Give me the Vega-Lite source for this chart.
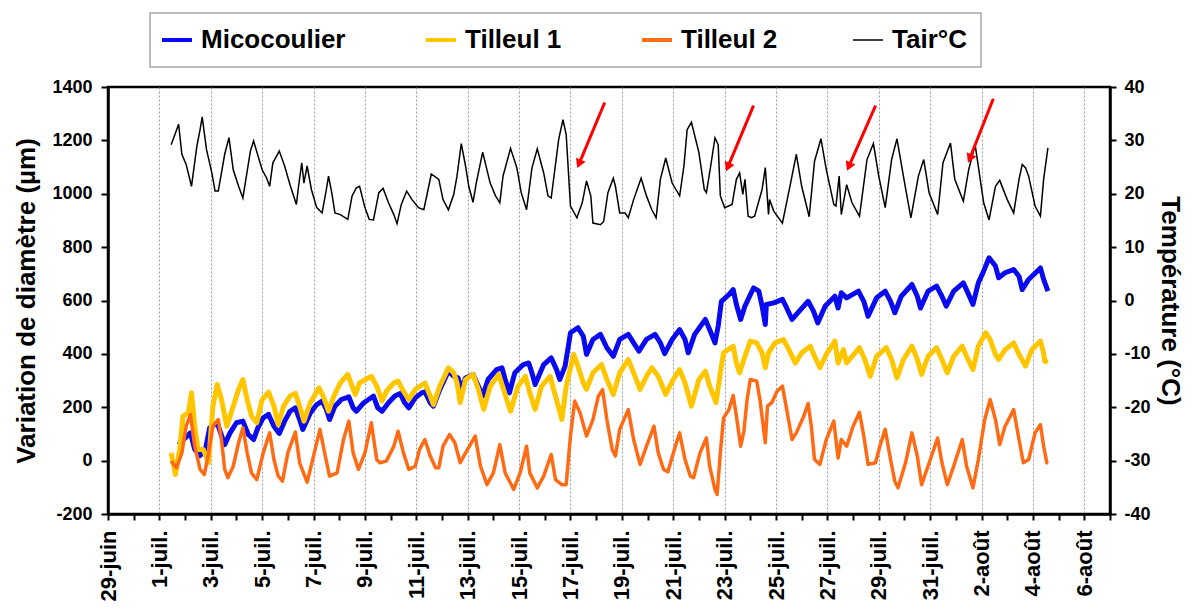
{
"$schema":"https://vega.github.io/schema/vega-lite/v6.json",
"width":1002,"height":427,
"autosize":{"type":"none"},
"padding":{"left":108,"top":87,"right":82,"bottom":96},
"background":"white",
"config":{
"font":"Liberation Sans",
"view":{"stroke":"black","strokeWidth":2.5},
"axis":{"domainColor":"black","domainWidth":2.5,"tickColor":"black","tickWidth":2,"labelColor":"black","labelFont":"Liberation Sans","labelFontWeight":"bold","titleFont":"Liberation Sans","titleColor":"black","titleFontWeight":"bold"},
"legend":{"strokeWidth":1.5}
},
"datasets":{
"M":[{"t":"2015-07-01 18:00","v":60},{"t":"2015-07-02 00:00","v":85},{"t":"2015-07-02 05:00","v":104},{"t":"2015-07-02 09:00","v":42},{"t":"2015-07-02 14:00","v":19},{"t":"2015-07-02 19:00","v":42},{"t":"2015-07-02 23:00","v":123},{"t":"2015-07-03 06:00","v":142},{"t":"2015-07-03 13:00","v":60},{"t":"2015-07-03 18:00","v":104},{"t":"2015-07-04 00:00","v":142},{"t":"2015-07-04 06:00","v":148},{"t":"2015-07-04 11:00","v":98},{"t":"2015-07-04 16:00","v":79},{"t":"2015-07-04 20:00","v":123},{"t":"2015-07-05 01:00","v":160},{"t":"2015-07-05 06:00","v":173},{"t":"2015-07-05 11:00","v":129},{"t":"2015-07-05 16:00","v":102},{"t":"2015-07-05 21:00","v":148},{"t":"2015-07-06 02:00","v":185},{"t":"2015-07-06 07:00","v":198},{"t":"2015-07-06 11:00","v":154},{"t":"2015-07-06 14:00","v":117},{"t":"2015-07-06 21:00","v":179},{"t":"2015-07-07 03:00","v":210},{"t":"2015-07-07 08:00","v":223},{"t":"2015-07-07 12:00","v":192},{"t":"2015-07-07 15:00","v":154},{"t":"2015-07-07 20:00","v":204},{"t":"2015-07-08 02:00","v":229},{"t":"2015-07-08 09:00","v":239},{"t":"2015-07-08 13:00","v":198},{"t":"2015-07-08 16:00","v":185},{"t":"2015-07-08 23:00","v":217},{"t":"2015-07-09 08:00","v":242},{"t":"2015-07-09 12:00","v":198},{"t":"2015-07-09 16:00","v":185},{"t":"2015-07-09 22:00","v":217},{"t":"2015-07-10 04:00","v":242},{"t":"2015-07-10 09:00","v":252},{"t":"2015-07-10 13:00","v":217},{"t":"2015-07-10 17:00","v":198},{"t":"2015-07-10 23:00","v":235},{"t":"2015-07-11 05:00","v":254},{"t":"2015-07-11 08:00","v":258},{"t":"2015-07-11 13:00","v":217},{"t":"2015-07-11 16:00","v":204},{"t":"2015-07-11 22:00","v":267},{"t":"2015-07-12 06:00","v":335},{"t":"2015-07-12 11:00","v":316},{"t":"2015-07-12 15:00","v":310},{"t":"2015-07-12 18:00","v":267},{"t":"2015-07-12 22:00","v":310},{"t":"2015-07-13 05:00","v":323},{"t":"2015-07-13 10:00","v":279},{"t":"2015-07-13 14:00","v":242},{"t":"2015-07-13 19:00","v":304},{"t":"2015-07-14 03:00","v":341},{"t":"2015-07-14 08:00","v":348},{"t":"2015-07-14 11:00","v":304},{"t":"2015-07-14 15:00","v":254},{"t":"2015-07-14 20:00","v":329},{"t":"2015-07-15 04:00","v":360},{"t":"2015-07-15 09:00","v":366},{"t":"2015-07-15 12:00","v":329},{"t":"2015-07-15 15:00","v":285},{"t":"2015-07-15 23:00","v":360},{"t":"2015-07-16 06:00","v":385},{"t":"2015-07-16 11:00","v":341},{"t":"2015-07-16 14:00","v":304},{"t":"2015-07-16 19:00","v":354},{"t":"2015-07-17 00:00","v":479},{"t":"2015-07-17 07:00","v":498},{"t":"2015-07-17 12:00","v":466},{"t":"2015-07-17 15:00","v":398},{"t":"2015-07-17 21:00","v":454},{"t":"2015-07-18 04:00","v":473},{"t":"2015-07-18 10:00","v":423},{"t":"2015-07-18 16:00","v":391},{"t":"2015-07-18 22:00","v":454},{"t":"2015-07-19 06:00","v":473},{"t":"2015-07-19 11:00","v":441},{"t":"2015-07-19 16:00","v":410},{"t":"2015-07-19 23:00","v":454},{"t":"2015-07-20 07:00","v":473},{"t":"2015-07-20 12:00","v":441},{"t":"2015-07-20 16:00","v":401},{"t":"2015-07-20 23:00","v":454},{"t":"2015-07-21 06:00","v":491},{"t":"2015-07-21 11:00","v":454},{"t":"2015-07-21 14:00","v":404},{"t":"2015-07-21 20:00","v":473},{"t":"2015-07-22 06:00","v":529},{"t":"2015-07-22 10:00","v":491},{"t":"2015-07-22 15:00","v":441},{"t":"2015-07-22 18:00","v":504},{"t":"2015-07-22 21:00","v":597},{"t":"2015-07-23 04:00","v":622},{"t":"2015-07-23 08:00","v":641},{"t":"2015-07-23 11:00","v":585},{"t":"2015-07-23 15:00","v":529},{"t":"2015-07-23 19:00","v":579},{"t":"2015-07-24 03:00","v":647},{"t":"2015-07-24 08:00","v":635},{"t":"2015-07-24 11:00","v":579},{"t":"2015-07-24 14:00","v":510},{"t":"2015-07-24 15:00","v":585},{"t":"2015-07-24 22:00","v":591},{"t":"2015-07-25 06:00","v":604},{"t":"2015-07-25 10:00","v":572},{"t":"2015-07-25 15:00","v":529},{"t":"2015-07-25 23:00","v":566},{"t":"2015-07-26 06:00","v":597},{"t":"2015-07-26 11:00","v":560},{"t":"2015-07-26 15:00","v":516},{"t":"2015-07-26 22:00","v":579},{"t":"2015-07-27 07:00","v":616},{"t":"2015-07-27 10:00","v":572},{"t":"2015-07-27 13:00","v":629},{"t":"2015-07-27 18:00","v":610},{"t":"2015-07-28 05:00","v":635},{"t":"2015-07-28 10:00","v":597},{"t":"2015-07-28 14:00","v":541},{"t":"2015-07-28 22:00","v":610},{"t":"2015-07-29 06:00","v":635},{"t":"2015-07-29 11:00","v":597},{"t":"2015-07-29 15:00","v":554},{"t":"2015-07-29 21:00","v":616},{"t":"2015-07-30 07:00","v":660},{"t":"2015-07-30 12:00","v":616},{"t":"2015-07-30 15:00","v":572},{"t":"2015-07-30 22:00","v":635},{"t":"2015-07-31 06:00","v":654},{"t":"2015-07-31 11:00","v":616},{"t":"2015-07-31 15:00","v":579},{"t":"2015-07-31 22:00","v":635},{"t":"2015-08-01 07:00","v":666},{"t":"2015-08-01 12:00","v":622},{"t":"2015-08-01 16:00","v":585},{"t":"2015-08-01 21:00","v":666},{"t":"2015-08-02 02:00","v":710},{"t":"2015-08-02 07:00","v":760},{"t":"2015-08-02 13:00","v":729},{"t":"2015-08-02 16:00","v":685},{"t":"2015-08-02 22:00","v":704},{"t":"2015-08-03 06:00","v":716},{"t":"2015-08-03 11:00","v":691},{"t":"2015-08-03 14:00","v":641},{"t":"2015-08-03 20:00","v":679},{"t":"2015-08-04 07:00","v":722},{"t":"2015-08-04 10:00","v":679},{"t":"2015-08-04 14:00","v":635}],
"T1":[{"t":"2015-07-01 11:00","v":29},{"t":"2015-07-01 15:00","v":-52},{"t":"2015-07-01 19:00","v":42},{"t":"2015-07-01 22:00","v":167},{"t":"2015-07-02 03:00","v":179},{"t":"2015-07-02 06:00","v":254},{"t":"2015-07-02 09:00","v":129},{"t":"2015-07-02 12:00","v":42},{"t":"2015-07-02 17:00","v":42},{"t":"2015-07-02 22:00","v":-8},{"t":"2015-07-03 02:00","v":204},{"t":"2015-07-03 06:00","v":285},{"t":"2015-07-03 10:00","v":229},{"t":"2015-07-03 15:00","v":129},{"t":"2015-07-03 21:00","v":204},{"t":"2015-07-04 02:00","v":267},{"t":"2015-07-04 06:00","v":304},{"t":"2015-07-04 10:00","v":229},{"t":"2015-07-04 14:00","v":167},{"t":"2015-07-04 19:00","v":142},{"t":"2015-07-05 00:00","v":229},{"t":"2015-07-05 06:00","v":257},{"t":"2015-07-05 11:00","v":204},{"t":"2015-07-05 15:00","v":135},{"t":"2015-07-05 20:00","v":204},{"t":"2015-07-06 02:00","v":242},{"t":"2015-07-06 07:00","v":252},{"t":"2015-07-06 11:00","v":204},{"t":"2015-07-06 15:00","v":148},{"t":"2015-07-06 21:00","v":217},{"t":"2015-07-07 05:00","v":273},{"t":"2015-07-07 09:00","v":242},{"t":"2015-07-07 14:00","v":185},{"t":"2015-07-07 19:00","v":242},{"t":"2015-07-08 01:00","v":291},{"t":"2015-07-08 08:00","v":323},{"t":"2015-07-08 12:00","v":279},{"t":"2015-07-08 15:00","v":248},{"t":"2015-07-08 19:00","v":291},{"t":"2015-07-09 06:00","v":316},{"t":"2015-07-09 11:00","v":279},{"t":"2015-07-09 16:00","v":223},{"t":"2015-07-09 20:00","v":260},{"t":"2015-07-10 03:00","v":291},{"t":"2015-07-10 07:00","v":298},{"t":"2015-07-10 12:00","v":260},{"t":"2015-07-10 17:00","v":229},{"t":"2015-07-10 23:00","v":267},{"t":"2015-07-11 08:00","v":291},{"t":"2015-07-11 13:00","v":242},{"t":"2015-07-11 16:00","v":210},{"t":"2015-07-11 22:00","v":279},{"t":"2015-07-12 06:00","v":348},{"t":"2015-07-12 11:00","v":329},{"t":"2015-07-12 14:00","v":291},{"t":"2015-07-12 17:00","v":217},{"t":"2015-07-12 22:00","v":304},{"t":"2015-07-13 05:00","v":323},{"t":"2015-07-13 10:00","v":267},{"t":"2015-07-13 15:00","v":192},{"t":"2015-07-13 21:00","v":279},{"t":"2015-07-14 05:00","v":323},{"t":"2015-07-14 09:00","v":273},{"t":"2015-07-14 16:00","v":185},{"t":"2015-07-14 23:00","v":279},{"t":"2015-07-15 06:00","v":316},{"t":"2015-07-15 10:00","v":254},{"t":"2015-07-15 15:00","v":192},{"t":"2015-07-15 21:00","v":279},{"t":"2015-07-16 05:00","v":316},{"t":"2015-07-16 10:00","v":242},{"t":"2015-07-16 16:00","v":154},{"t":"2015-07-16 20:00","v":279},{"t":"2015-07-17 03:00","v":398},{"t":"2015-07-17 07:00","v":354},{"t":"2015-07-17 12:00","v":291},{"t":"2015-07-17 15:00","v":267},{"t":"2015-07-17 21:00","v":329},{"t":"2015-07-18 05:00","v":360},{"t":"2015-07-18 10:00","v":304},{"t":"2015-07-18 16:00","v":248},{"t":"2015-07-18 22:00","v":329},{"t":"2015-07-19 06:00","v":379},{"t":"2015-07-19 11:00","v":329},{"t":"2015-07-19 17:00","v":267},{"t":"2015-07-19 23:00","v":316},{"t":"2015-07-20 04:00","v":348},{"t":"2015-07-20 10:00","v":316},{"t":"2015-07-20 17:00","v":248},{"t":"2015-07-21 00:00","v":304},{"t":"2015-07-21 06:00","v":341},{"t":"2015-07-21 11:00","v":291},{"t":"2015-07-21 17:00","v":204},{"t":"2015-07-22 00:00","v":304},{"t":"2015-07-22 06:00","v":335},{"t":"2015-07-22 10:00","v":279},{"t":"2015-07-22 16:00","v":217},{"t":"2015-07-22 20:00","v":329},{"t":"2015-07-22 23:00","v":404},{"t":"2015-07-23 08:00","v":429},{"t":"2015-07-23 11:00","v":366},{"t":"2015-07-23 14:00","v":329},{"t":"2015-07-23 19:00","v":391},{"t":"2015-07-24 00:00","v":448},{"t":"2015-07-24 06:00","v":441},{"t":"2015-07-24 11:00","v":404},{"t":"2015-07-24 14:00","v":348},{"t":"2015-07-24 17:00","v":404},{"t":"2015-07-24 23:00","v":441},{"t":"2015-07-25 07:00","v":454},{"t":"2015-07-25 12:00","v":416},{"t":"2015-07-25 18:00","v":366},{"t":"2015-07-26 00:00","v":404},{"t":"2015-07-26 08:00","v":429},{"t":"2015-07-26 12:00","v":391},{"t":"2015-07-26 17:00","v":348},{"t":"2015-07-26 23:00","v":398},{"t":"2015-07-27 07:00","v":448},{"t":"2015-07-27 10:00","v":366},{"t":"2015-07-27 15:00","v":416},{"t":"2015-07-27 18:00","v":366},{"t":"2015-07-28 06:00","v":423},{"t":"2015-07-28 11:00","v":379},{"t":"2015-07-28 16:00","v":316},{"t":"2015-07-28 22:00","v":391},{"t":"2015-07-29 07:00","v":423},{"t":"2015-07-29 12:00","v":379},{"t":"2015-07-29 17:00","v":310},{"t":"2015-07-29 23:00","v":379},{"t":"2015-07-30 07:00","v":429},{"t":"2015-07-30 12:00","v":379},{"t":"2015-07-30 16:00","v":323},{"t":"2015-07-30 22:00","v":391},{"t":"2015-07-31 06:00","v":423},{"t":"2015-07-31 11:00","v":379},{"t":"2015-07-31 16:00","v":329},{"t":"2015-07-31 22:00","v":391},{"t":"2015-08-01 06:00","v":429},{"t":"2015-08-01 10:00","v":391},{"t":"2015-08-01 16:00","v":341},{"t":"2015-08-01 21:00","v":429},{"t":"2015-08-02 04:00","v":479},{"t":"2015-08-02 08:00","v":454},{"t":"2015-08-02 13:00","v":398},{"t":"2015-08-02 16:00","v":379},{"t":"2015-08-02 22:00","v":416},{"t":"2015-08-03 06:00","v":441},{"t":"2015-08-03 11:00","v":398},{"t":"2015-08-03 17:00","v":354},{"t":"2015-08-03 23:00","v":416},{"t":"2015-08-04 07:00","v":448},{"t":"2015-08-04 10:00","v":404},{"t":"2015-08-04 11:00","v":373},{"t":"2015-08-04 14:00","v":369}],
"T2":[{"t":"2015-07-01 11:00","v":-2},{"t":"2015-07-01 16:00","v":-27},{"t":"2015-07-01 21:00","v":29},{"t":"2015-07-02 01:00","v":129},{"t":"2015-07-02 05:00","v":173},{"t":"2015-07-02 09:00","v":54},{"t":"2015-07-02 14:00","v":-33},{"t":"2015-07-02 18:00","v":-52},{"t":"2015-07-02 22:00","v":29},{"t":"2015-07-03 02:00","v":129},{"t":"2015-07-03 07:00","v":154},{"t":"2015-07-03 10:00","v":79},{"t":"2015-07-03 13:00","v":-33},{"t":"2015-07-03 16:00","v":-64},{"t":"2015-07-03 21:00","v":-21},{"t":"2015-07-04 02:00","v":67},{"t":"2015-07-04 06:00","v":123},{"t":"2015-07-04 10:00","v":29},{"t":"2015-07-04 14:00","v":-46},{"t":"2015-07-04 19:00","v":-71},{"t":"2015-07-05 01:00","v":29},{"t":"2015-07-05 07:00","v":104},{"t":"2015-07-05 11:00","v":4},{"t":"2015-07-05 15:00","v":-58},{"t":"2015-07-05 19:00","v":-77},{"t":"2015-07-06 00:00","v":29},{"t":"2015-07-06 07:00","v":107},{"t":"2015-07-06 11:00","v":-8},{"t":"2015-07-06 18:00","v":-81},{"t":"2015-07-07 00:00","v":17},{"t":"2015-07-07 06:00","v":117},{"t":"2015-07-07 11:00","v":17},{"t":"2015-07-07 15:00","v":-58},{"t":"2015-07-07 22:00","v":-46},{"t":"2015-07-08 04:00","v":79},{"t":"2015-07-08 09:00","v":148},{"t":"2015-07-08 13:00","v":29},{"t":"2015-07-08 18:00","v":-33},{"t":"2015-07-09 00:00","v":29},{"t":"2015-07-09 06:00","v":142},{"t":"2015-07-09 11:00","v":4},{"t":"2015-07-09 14:00","v":-8},{"t":"2015-07-09 20:00","v":-2},{"t":"2015-07-10 03:00","v":54},{"t":"2015-07-10 07:00","v":110},{"t":"2015-07-10 12:00","v":29},{"t":"2015-07-10 17:00","v":-33},{"t":"2015-07-10 23:00","v":-21},{"t":"2015-07-11 03:00","v":42},{"t":"2015-07-11 08:00","v":79},{"t":"2015-07-11 13:00","v":17},{"t":"2015-07-11 18:00","v":-27},{"t":"2015-07-11 21:00","v":-27},{"t":"2015-07-12 01:00","v":54},{"t":"2015-07-12 07:00","v":98},{"t":"2015-07-12 12:00","v":67},{"t":"2015-07-12 17:00","v":-8},{"t":"2015-07-12 22:00","v":29},{"t":"2015-07-13 07:00","v":92},{"t":"2015-07-13 12:00","v":-21},{"t":"2015-07-13 18:00","v":-90},{"t":"2015-07-14 00:00","v":-46},{"t":"2015-07-14 06:00","v":60},{"t":"2015-07-14 11:00","v":-46},{"t":"2015-07-14 19:00","v":-108},{"t":"2015-07-15 01:00","v":-46},{"t":"2015-07-15 07:00","v":54},{"t":"2015-07-15 10:00","v":-46},{"t":"2015-07-15 17:00","v":-102},{"t":"2015-07-15 23:00","v":-58},{"t":"2015-07-16 06:00","v":23},{"t":"2015-07-16 10:00","v":-71},{"t":"2015-07-16 16:00","v":-90},{"t":"2015-07-16 20:00","v":-90},{"t":"2015-07-17 00:00","v":92},{"t":"2015-07-17 04:00","v":223},{"t":"2015-07-17 09:00","v":179},{"t":"2015-07-17 15:00","v":92},{"t":"2015-07-17 21:00","v":154},{"t":"2015-07-18 02:00","v":241},{"t":"2015-07-18 06:00","v":266},{"t":"2015-07-18 10:00","v":154},{"t":"2015-07-18 15:00","v":42},{"t":"2015-07-18 18:00","v":17},{"t":"2015-07-18 22:00","v":117},{"t":"2015-07-19 06:00","v":191},{"t":"2015-07-19 11:00","v":79},{"t":"2015-07-19 17:00","v":-14},{"t":"2015-07-19 23:00","v":54},{"t":"2015-07-20 06:00","v":129},{"t":"2015-07-20 10:00","v":29},{"t":"2015-07-20 15:00","v":-33},{"t":"2015-07-20 19:00","v":-42},{"t":"2015-07-21 02:00","v":54},{"t":"2015-07-21 06:00","v":104},{"t":"2015-07-21 11:00","v":4},{"t":"2015-07-21 16:00","v":-58},{"t":"2015-07-21 19:00","v":-64},{"t":"2015-07-22 01:00","v":29},{"t":"2015-07-22 07:00","v":85},{"t":"2015-07-22 10:00","v":-21},{"t":"2015-07-22 15:00","v":-108},{"t":"2015-07-22 17:00","v":-127},{"t":"2015-07-22 20:00","v":29},{"t":"2015-07-22 23:00","v":160},{"t":"2015-07-23 04:00","v":191},{"t":"2015-07-23 08:00","v":244},{"t":"2015-07-23 11:00","v":167},{"t":"2015-07-23 15:00","v":54},{"t":"2015-07-23 18:00","v":110},{"t":"2015-07-23 21:00","v":229},{"t":"2015-07-24 00:00","v":304},{"t":"2015-07-24 06:00","v":298},{"t":"2015-07-24 09:00","v":229},{"t":"2015-07-24 14:00","v":67},{"t":"2015-07-24 16:00","v":204},{"t":"2015-07-24 20:00","v":217},{"t":"2015-07-25 01:00","v":260},{"t":"2015-07-25 06:00","v":279},{"t":"2015-07-25 10:00","v":191},{"t":"2015-07-25 15:00","v":79},{"t":"2015-07-25 19:00","v":104},{"t":"2015-07-26 02:00","v":167},{"t":"2015-07-26 06:00","v":214},{"t":"2015-07-26 09:00","v":129},{"t":"2015-07-26 12:00","v":4},{"t":"2015-07-26 17:00","v":-14},{"t":"2015-07-26 23:00","v":79},{"t":"2015-07-27 06:00","v":148},{"t":"2015-07-27 10:00","v":10},{"t":"2015-07-27 13:00","v":79},{"t":"2015-07-27 18:00","v":54},{"t":"2015-07-28 00:00","v":129},{"t":"2015-07-28 06:00","v":181},{"t":"2015-07-28 10:00","v":92},{"t":"2015-07-28 14:00","v":-14},{"t":"2015-07-28 21:00","v":-8},{"t":"2015-07-29 01:00","v":54},{"t":"2015-07-29 06:00","v":117},{"t":"2015-07-29 11:00","v":4},{"t":"2015-07-29 15:00","v":-77},{"t":"2015-07-29 18:00","v":-102},{"t":"2015-07-30 01:00","v":-8},{"t":"2015-07-30 07:00","v":104},{"t":"2015-07-30 12:00","v":17},{"t":"2015-07-30 16:00","v":-90},{"t":"2015-07-30 22:00","v":-21},{"t":"2015-07-31 07:00","v":85},{"t":"2015-07-31 11:00","v":-8},{"t":"2015-07-31 16:00","v":-90},{"t":"2015-07-31 22:00","v":-21},{"t":"2015-08-01 06:00","v":79},{"t":"2015-08-01 10:00","v":-21},{"t":"2015-08-01 16:00","v":-102},{"t":"2015-08-01 21:00","v":4},{"t":"2015-08-02 03:00","v":154},{"t":"2015-08-02 08:00","v":229},{"t":"2015-08-02 13:00","v":154},{"t":"2015-08-02 17:00","v":60},{"t":"2015-08-02 22:00","v":129},{"t":"2015-08-03 06:00","v":191},{"t":"2015-08-03 11:00","v":79},{"t":"2015-08-03 15:00","v":-8},{"t":"2015-08-03 20:00","v":4},{"t":"2015-08-04 02:00","v":104},{"t":"2015-08-04 07:00","v":135},{"t":"2015-08-04 10:00","v":54},{"t":"2015-08-04 13:00","v":-8},{"t":"2015-08-04 14:00","v":-11}],
"Ta":[{"t":"2015-07-01 11:00","v":29.2},{"t":"2015-07-01 18:00","v":33},{"t":"2015-07-01 21:00","v":27.4},{"t":"2015-07-02 01:00","v":25.5},{"t":"2015-07-02 06:00","v":21.4},{"t":"2015-07-02 11:00","v":28.9},{"t":"2015-07-02 14:00","v":32},{"t":"2015-07-02 16:00","v":34.4},{"t":"2015-07-02 20:00","v":28.3},{"t":"2015-07-03 01:00","v":23.9},{"t":"2015-07-03 04:00","v":20.5},{"t":"2015-07-03 07:00","v":20.5},{"t":"2015-07-03 10:00","v":23.9},{"t":"2015-07-03 13:00","v":27.4},{"t":"2015-07-03 17:00","v":30.5},{"t":"2015-07-03 21:00","v":24.5},{"t":"2015-07-04 02:00","v":21.4},{"t":"2015-07-04 06:00","v":19.2},{"t":"2015-07-04 13:00","v":28},{"t":"2015-07-04 16:00","v":29.9},{"t":"2015-07-05 00:00","v":24.5},{"t":"2015-07-05 04:00","v":23},{"t":"2015-07-05 07:00","v":21.4},{"t":"2015-07-05 10:00","v":25.8},{"t":"2015-07-05 16:00","v":28},{"t":"2015-07-05 21:00","v":25.2},{"t":"2015-07-06 02:00","v":21.7},{"t":"2015-07-06 08:00","v":18},{"t":"2015-07-06 10:00","v":21.4},{"t":"2015-07-06 13:00","v":25.8},{"t":"2015-07-06 15:00","v":22},{"t":"2015-07-06 18:00","v":25.2},{"t":"2015-07-06 22:00","v":20.8},{"t":"2015-07-07 03:00","v":17.4},{"t":"2015-07-07 08:00","v":16.4},{"t":"2015-07-07 12:00","v":20.8},{"t":"2015-07-07 14:00","v":23.3},{"t":"2015-07-07 17:00","v":20.2},{"t":"2015-07-07 20:00","v":16.4},{"t":"2015-07-08 01:00","v":16.1},{"t":"2015-07-08 08:00","v":15.2},{"t":"2015-07-08 12:00","v":19.6},{"t":"2015-07-08 16:00","v":21.1},{"t":"2015-07-08 19:00","v":21.4},{"t":"2015-07-09 00:00","v":17.4},{"t":"2015-07-09 04:00","v":15.2},{"t":"2015-07-09 08:00","v":15.1},{"t":"2015-07-09 13:00","v":20.2},{"t":"2015-07-09 17:00","v":21},{"t":"2015-07-09 22:00","v":18.3},{"t":"2015-07-10 03:00","v":16.1},{"t":"2015-07-10 06:00","v":14.4},{"t":"2015-07-10 10:00","v":18},{"t":"2015-07-10 15:00","v":20.5},{"t":"2015-07-10 20:00","v":18.9},{"t":"2015-07-11 02:00","v":17.4},{"t":"2015-07-11 07:00","v":17},{"t":"2015-07-11 11:00","v":20.8},{"t":"2015-07-11 14:00","v":23.7},{"t":"2015-07-11 21:00","v":22.7},{"t":"2015-07-12 01:00","v":18.9},{"t":"2015-07-12 06:00","v":17},{"t":"2015-07-12 11:00","v":19.9},{"t":"2015-07-12 14:00","v":23.3},{"t":"2015-07-12 18:00","v":29.4},{"t":"2015-07-12 22:00","v":25.2},{"t":"2015-07-13 01:00","v":21.4},{"t":"2015-07-13 05:00","v":18.4},{"t":"2015-07-13 08:00","v":22},{"t":"2015-07-13 14:00","v":27.8},{"t":"2015-07-13 16:00","v":26.1},{"t":"2015-07-13 21:00","v":22},{"t":"2015-07-14 02:00","v":19.6},{"t":"2015-07-14 06:00","v":18.3},{"t":"2015-07-14 09:00","v":23.3},{"t":"2015-07-14 16:00","v":28.5},{"t":"2015-07-14 22:00","v":24.8},{"t":"2015-07-15 02:00","v":20.2},{"t":"2015-07-15 07:00","v":17},{"t":"2015-07-15 12:00","v":24.8},{"t":"2015-07-15 17:00","v":28.4},{"t":"2015-07-15 23:00","v":23.9},{"t":"2015-07-16 03:00","v":19.6},{"t":"2015-07-16 06:00","v":19.2},{"t":"2015-07-16 13:00","v":30.2},{"t":"2015-07-16 17:00","v":33.9},{"t":"2015-07-16 20:00","v":31.1},{"t":"2015-07-17 00:00","v":17.7},{"t":"2015-07-17 06:00","v":15.5},{"t":"2015-07-17 11:00","v":18.3},{"t":"2015-07-17 15:00","v":22.4},{"t":"2015-07-17 19:00","v":19.6},{"t":"2015-07-17 21:00","v":14.5},{"t":"2015-07-18 04:00","v":14.2},{"t":"2015-07-18 07:00","v":14.8},{"t":"2015-07-18 11:00","v":20.2},{"t":"2015-07-18 16:00","v":22.9},{"t":"2015-07-18 18:00","v":21.4},{"t":"2015-07-18 22:00","v":16.4},{"t":"2015-07-19 03:00","v":16.4},{"t":"2015-07-19 06:00","v":15.5},{"t":"2015-07-19 11:00","v":18.9},{"t":"2015-07-19 18:00","v":22.9},{"t":"2015-07-19 23:00","v":19.6},{"t":"2015-07-20 04:00","v":17},{"t":"2015-07-20 08:00","v":15.5},{"t":"2015-07-20 12:00","v":22.7},{"t":"2015-07-20 17:00","v":26.7},{"t":"2015-07-20 23:00","v":22},{"t":"2015-07-21 06:00","v":19.6},{"t":"2015-07-21 10:00","v":25.2},{"t":"2015-07-21 13:00","v":32},{"t":"2015-07-21 17:00","v":33.4},{"t":"2015-07-22 00:00","v":27.7},{"t":"2015-07-22 05:00","v":20.8},{"t":"2015-07-22 07:00","v":20.2},{"t":"2015-07-22 11:00","v":25.2},{"t":"2015-07-22 15:00","v":30.5},{"t":"2015-07-22 18:00","v":29.2},{"t":"2015-07-22 20:00","v":19.6},{"t":"2015-07-23 00:00","v":17.4},{"t":"2015-07-23 07:00","v":18},{"t":"2015-07-23 11:00","v":22.7},{"t":"2015-07-23 14:00","v":23.9},{"t":"2015-07-23 17:00","v":19.9},{"t":"2015-07-23 19:00","v":22.7},{"t":"2015-07-23 22:00","v":15.8},{"t":"2015-07-24 01:00","v":15.5},{"t":"2015-07-24 04:00","v":15.8},{"t":"2015-07-24 11:00","v":20.8},{"t":"2015-07-24 14:00","v":24.9},{"t":"2015-07-24 17:00","v":16.1},{"t":"2015-07-24 18:00","v":18.9},{"t":"2015-07-24 22:00","v":16.7},{"t":"2015-07-25 06:00","v":14.5},{"t":"2015-07-25 13:00","v":21.4},{"t":"2015-07-25 19:00","v":27.4},{"t":"2015-07-26 00:00","v":21.4},{"t":"2015-07-26 07:00","v":15.7},{"t":"2015-07-26 12:00","v":26.1},{"t":"2015-07-26 18:00","v":30.3},{"t":"2015-07-26 23:00","v":24.5},{"t":"2015-07-27 06:00","v":18},{"t":"2015-07-27 08:00","v":17.7},{"t":"2015-07-27 11:00","v":23.3},{"t":"2015-07-27 13:00","v":16.1},{"t":"2015-07-27 18:00","v":21.7},{"t":"2015-07-27 23:00","v":18.3},{"t":"2015-07-28 06:00","v":15.8},{"t":"2015-07-28 13:00","v":26.4},{"t":"2015-07-28 19:00","v":29.4},{"t":"2015-07-29 00:00","v":23.3},{"t":"2015-07-29 06:00","v":17.4},{"t":"2015-07-29 12:00","v":26.4},{"t":"2015-07-29 17:00","v":30.3},{"t":"2015-07-29 23:00","v":23.3},{"t":"2015-07-30 06:00","v":15.5},{"t":"2015-07-30 13:00","v":23.3},{"t":"2015-07-30 18:00","v":26.4},{"t":"2015-07-30 23:00","v":20.2},{"t":"2015-07-31 07:00","v":16.1},{"t":"2015-07-31 12:00","v":25.8},{"t":"2015-07-31 19:00","v":29.5},{"t":"2015-07-31 23:00","v":22.7},{"t":"2015-08-01 07:00","v":18.6},{"t":"2015-08-01 12:00","v":24.5},{"t":"2015-08-01 18:00","v":29.2},{"t":"2015-08-02 02:00","v":18.3},{"t":"2015-08-02 07:00","v":15.1},{"t":"2015-08-02 13:00","v":21.4},{"t":"2015-08-02 17:00","v":22.5},{"t":"2015-08-03 00:00","v":18.9},{"t":"2015-08-03 06:00","v":16.4},{"t":"2015-08-03 11:00","v":22.7},{"t":"2015-08-03 14:00","v":25.5},{"t":"2015-08-03 17:00","v":24.9},{"t":"2015-08-03 20:00","v":23.3},{"t":"2015-08-04 02:00","v":17.7},{"t":"2015-08-04 07:00","v":15.8},{"t":"2015-08-04 10:00","v":22.7},{"t":"2015-08-04 14:00","v":28.6}],
"arrows":[{"t":"2015-07-18 08:00","v":37.1,"t2":"2015-07-17 08:00","v2":25.6},{"t":"2015-07-24 03:00","v":36.5,"t2":"2015-07-23 03:00","v2":25.0},{"t":"2015-07-28 21:00","v":36.5,"t2":"2015-07-27 20:00","v2":25.1},{"t":"2015-08-02 11:00","v":37.8,"t2":"2015-08-01 13:00","v2":26.6}]
},
"encoding":{
"x":{"field":"t","type":"temporal","scale":{"domain":[{"year":2015,"month":6,"date":29},{"year":2015,"month":8,"date":7}],"nice":false},
"axis":{"title":null,"tickCount":{"interval":"day","step":1},"labelExpr":"round((datum.value - datetime(2015,5,29))/86400000) % 2 == 0 ? date(datum.value) + '-' + (month(datum.value) == 5 ? 'juin' : (month(datum.value) == 6 ? 'juil.' : 'août')) : ''","labelAngle":270,"labelFontSize":22,"labelPadding":10,"labelOverlap":false,"labelFlush":false,"tickSize":6,"grid":true,"gridColor":"#9a9a9a","gridDash":[2,2],"gridWidth":1,"gridOpacity":{"condition":{"test":"round((datum.value - datetime(2015,5,29))/86400000) % 2 == 0","value":1},"value":0}}}
},
"layer":[
{"encoding":{"y":{"field":"v","type":"quantitative","scale":{"domain":[-200,1400],"nice":false,"zero":false},"axis":{"orient":"left","title":"Variation de diamètre (µm)","titleFontSize":26,"titlePadding":12,"values":[-200,0,200,400,600,800,1000,1200,1400],"labelExpr":"'' + datum.value","grid":false,"labelFontSize":18,"tickSize":7,"labelPadding":9}}},
"layer":[
{"data":{"name":"M"},"mark":{"type":"line","strokeWidth":5,"strokeJoin":"round"},
"encoding":{"color":{"datum":"Micocoulier","type":"nominal","scale":{"domain":["Micocoulier","Tilleul 1","Tilleul 2","Tair°C"],"range":["#0a0af0","#ffc600","#ff6a14","#000000"]},
"legend":{"orient":"none","legendX":42,"legendY":-74,"direction":"horizontal","title":null,"symbolType":"stroke","symbolSize":900,"symbolStrokeWidth":4,"labelFontSize":26,"labelFontWeight":"bold","labelFont":"Liberation Sans","labelColor":"black","labelOffset":11,"columnPadding":72,"padding":14,"strokeColor":"#a6a6a6","fillColor":"white","labelLimit":0,
"encode":{"symbols":{"update":{"strokeWidth":{"signal":"datum.value == 'Tair°C' ? 1.5 : 4"}}}}}}}},
{"data":{"name":"T1"},"mark":{"type":"line","strokeWidth":5,"strokeJoin":"round"},
"encoding":{"color":{"datum":"Tilleul 1","type":"nominal"}}},
{"data":{"name":"T2"},"mark":{"type":"line","strokeWidth":3.5,"strokeJoin":"round"},
"encoding":{"color":{"datum":"Tilleul 2","type":"nominal"}}}
]},
{"encoding":{"y":{"field":"v","type":"quantitative","scale":{"domain":[-40,40],"nice":false,"zero":false},"axis":{"orient":"right","title":"Température (°C)","titleFontSize":26,"titlePadding":6,"values":[-40,-30,-20,-10,0,10,20,30,40],"labelExpr":"'' + datum.value","grid":false,"labelFontSize":18,"tickSize":6,"labelPadding":8}}},
"layer":[
{"data":{"name":"Ta"},"mark":{"type":"line","strokeWidth":1.5},
"encoding":{"color":{"datum":"Tair°C","type":"nominal"}}},
{"data":{"name":"arrows"},"mark":{"type":"rule","color":"#ff0000","strokeWidth":3},
"encoding":{"x2":{"field":"t2"},"y2":{"field":"v2"}}},
{"data":{"name":"arrows"},"mark":{"type":"point","shape":"triangle-up","filled":true,"color":"#ff0000","size":110,"angle":203,"opacity":1},
"encoding":{"x":{"field":"t2","type":"temporal"},"y":{"field":"v2","type":"quantitative"}}}
]}
],
"resolve":{"scale":{"y":"independent"}}
}
